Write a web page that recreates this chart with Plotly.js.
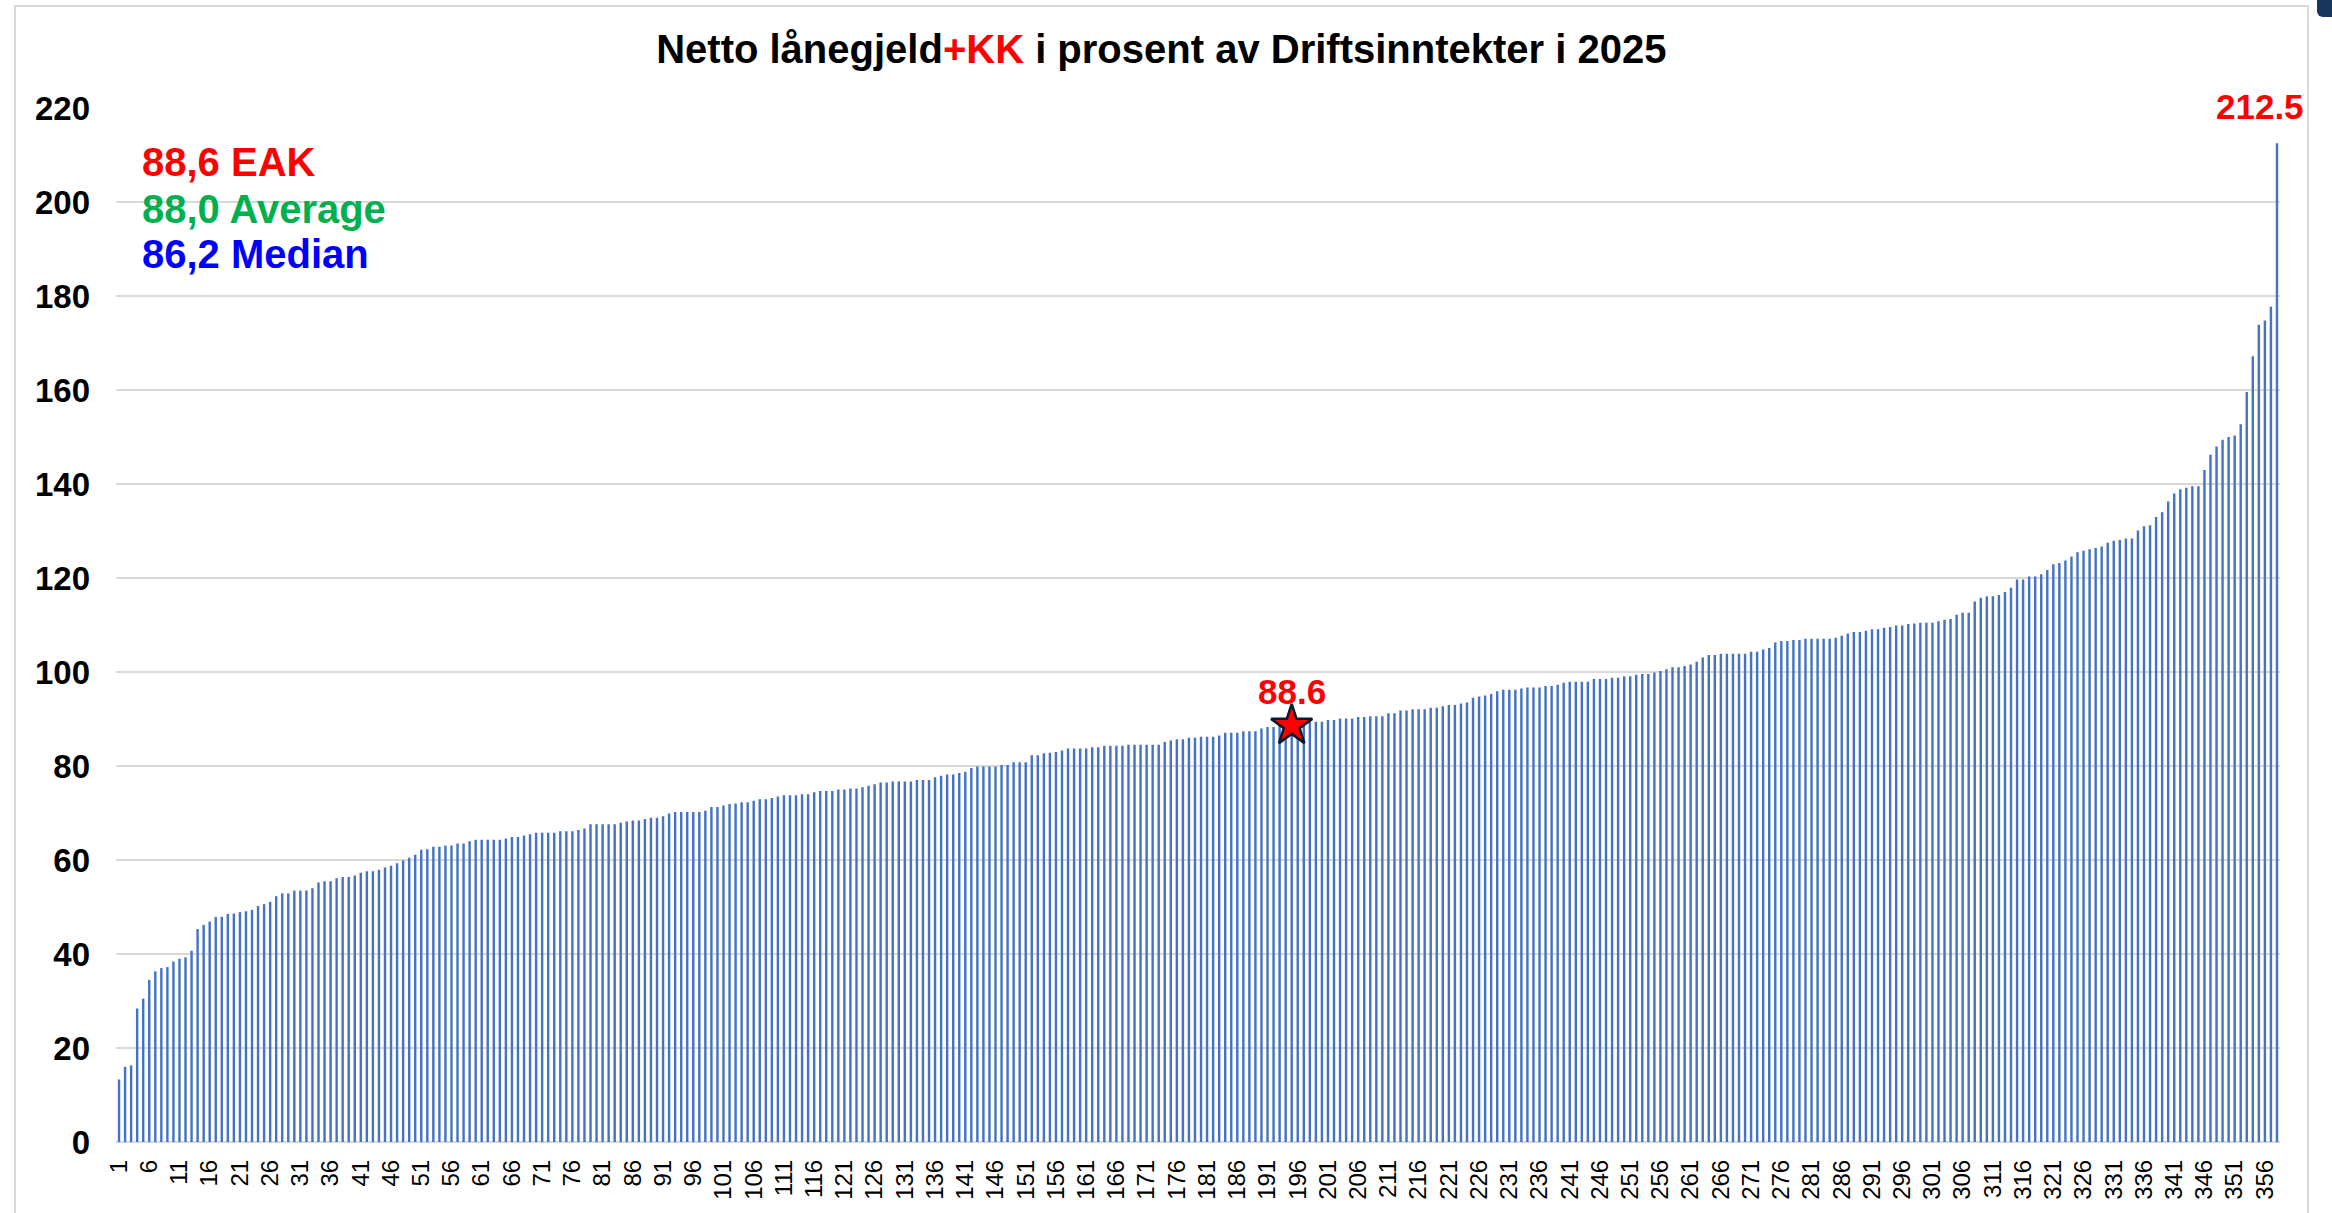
<!DOCTYPE html>
<html>
<head>
<meta charset="utf-8">
<script src="https://cdn.plot.ly/plotly-3.0.1.min.js"></script>
<style>
  html, body { margin: 0; padding: 0; background: #ffffff; }
  #frame { position: absolute; left: 14px; top: 5px; width: 2295px; height: 1220px; border: 2px solid #d9d9d9; box-sizing: border-box; }
  #corner { position: absolute; right: 0; top: 0; width: 15px; height: 17px; background: #17375e; border-bottom-left-radius: 6px; }
  #chart { position: absolute; left: 0; top: 0; width: 2332px; height: 1213px; }
</style>
</head>
<body>
<div id="frame"></div>
<div id="corner"></div>
<div id="chart"></div>
<script>
// Netto lånegjeld + KK i prosent av driftsinntekter 2025, sorted ascending (358 kommuner)
const netDebtPct = [
  13.3, 16.0, 16.3, 28.4, 30.5, 34.5, 36.3, 37.0, 37.2, 38.4,
  39.0, 39.3, 40.7, 45.3, 46.2, 46.9, 47.9, 47.9, 48.5, 48.6,
  48.9, 49.1, 49.4, 50.2, 50.6, 51.1, 52.3, 52.9, 52.9, 53.5,
  53.5, 53.5, 54.0, 55.2, 55.5, 55.5, 56.1, 56.4, 56.4, 56.7,
  57.3, 57.6, 57.6, 57.9, 58.4, 58.8, 59.3, 59.9, 60.5, 61.1,
  62.2, 62.3, 62.8, 62.8, 63.1, 63.1, 63.5, 63.5, 64.0, 64.3,
  64.3, 64.3, 64.3, 64.3, 64.6, 64.9, 64.9, 65.2, 65.5, 65.8,
  65.8, 65.8, 65.8, 66.1, 66.1, 66.1, 66.4, 66.7, 67.6, 67.6,
  67.6, 67.6, 67.6, 67.9, 68.2, 68.4, 68.4, 68.7, 69.0, 69.0,
  69.3, 69.9, 70.2, 70.2, 70.2, 70.2, 70.2, 70.5, 71.3, 71.3,
  71.6, 71.9, 72.0, 72.3, 72.3, 72.6, 72.9, 72.9, 73.2, 73.5,
  73.8, 73.8, 73.8, 74.0, 74.0, 74.4, 74.7, 74.7, 74.7, 75.0,
  75.0, 75.2, 75.2, 75.5, 75.8, 76.1, 76.5, 76.5, 76.7, 76.7,
  76.7, 76.7, 77.0, 77.0, 77.0, 77.6, 77.9, 78.2, 78.2, 78.5,
  78.8, 79.6, 79.9, 79.9, 79.9, 79.9, 80.2, 80.2, 80.8, 80.8,
  80.8, 82.3, 82.3, 82.7, 82.8, 83.0, 83.3, 83.7, 83.7, 83.7,
  83.7, 84.0, 84.0, 84.3, 84.3, 84.3, 84.3, 84.5, 84.5, 84.5,
  84.5, 84.5, 84.5, 85.1, 85.4, 85.7, 85.7, 86.0, 86.0, 86.2,
  86.2, 86.2, 86.5, 87.1, 87.1, 87.1, 87.4, 87.4, 87.4, 88.0,
  88.3, 88.3, 88.5, 88.6, 88.6, 88.9, 89.1, 89.4, 89.4, 89.4,
  89.8, 89.8, 90.1, 90.1, 90.1, 90.4, 90.4, 90.6, 90.6, 90.6,
  91.2, 91.2, 91.8, 91.8, 92.1, 92.1, 92.1, 92.4, 92.4, 92.7,
  93.0, 93.0, 93.3, 93.5, 94.5, 94.8, 95.0, 95.3, 95.9, 96.2,
  96.2, 96.2, 96.5, 96.7, 96.7, 96.7, 97.0, 97.0, 97.3, 97.7,
  97.9, 97.9, 97.9, 97.9, 98.5, 98.5, 98.5, 98.8, 98.8, 99.1,
  99.1, 99.4, 99.6, 99.6, 99.9, 100.2, 100.6, 101.0, 101.0, 101.3,
  101.6, 102.2, 103.1, 103.6, 103.6, 103.9, 103.9, 103.9, 103.9, 103.9,
  104.3, 104.3, 104.8, 105.1, 106.3, 106.6, 106.6, 106.8, 106.8, 107.1,
  107.1, 107.1, 107.1, 107.1, 107.3, 107.7, 108.2, 108.5, 108.5, 108.8,
  109.1, 109.1, 109.4, 109.6, 109.9, 109.9, 110.2, 110.3, 110.5, 110.5,
  110.5, 110.8, 111.1, 111.3, 112.2, 112.6, 112.6, 115.0, 115.8, 116.1,
  116.1, 116.4, 117.0, 117.9, 119.7, 119.7, 120.3, 120.3, 120.8, 121.7,
  122.9, 123.2, 123.7, 124.6, 125.5, 125.8, 126.1, 126.4, 126.7, 127.5,
  127.9, 128.1, 128.4, 128.4, 130.1, 131.0, 131.2, 133.0, 134.0, 136.3,
  138.0, 138.9, 139.2, 139.5, 139.5, 143.0, 146.2, 148.0, 149.4, 150.0,
  150.3, 152.7, 159.6, 167.2, 173.9, 174.8, 177.7, 212.5
];

// Highlighted kommune (EAK) and summary statistics
const eakRank = 195;
const eakValue = 88.6;
const statLines = [
  { text: "88,6 EAK", color: "#ff0000" },
  { text: "88,0 Average", color: "#00b050" },
  { text: "86,2 Median", color: "#0000ff" }
];
const yTicks = [0, 20, 40, 60, 80, 100, 120, 140, 160, 180, 200, 220];

// Rank categories 1..N and tick labels every 5th rank
const ranks = netDebtPct.map((_, i) => i + 1);
const xTickVals = ranks.filter(r => (r - 1) % 5 === 0);
const xTickText = xTickVals.map(String);

const maxIdx = netDebtPct.length - 1;
const FONT = "Liberation Sans, Arial, sans-serif";

const bars = {
  type: "bar",
  x: ranks,
  y: netDebtPct,
  marker: { color: "#4472c4", line: { width: 0 } },
  hoverinfo: "x+y"
};

const star = {
  type: "scatter",
  mode: "markers",
  x: [eakRank],
  y: [eakValue],
  marker: { symbol: "star", size: 31, color: "#ff0000", line: { color: "#0d1b2a", width: 2.5 } },
  hoverinfo: "x+y"
};

const annotations = [
  {
    x: eakRank, y: eakValue, xref: "x", yref: "y",
    text: "<b>" + eakValue.toFixed(1) + "</b>", showarrow: false,
    yanchor: "bottom", yshift: 13,
    font: { family: FONT, size: 35, color: "#ff0000" }
  },
  {
    x: ranks[maxIdx], y: netDebtPct[maxIdx], xref: "x", yref: "y",
    text: "<b>" + netDebtPct[maxIdx].toFixed(1) + "</b>", showarrow: false,
    yanchor: "bottom", xanchor: "center", yshift: 15, xshift: -17,
    font: { family: FONT, size: 35, color: "#ff0000" }
  }
];
const statY = [0.948, 0.902, 0.859];
statLines.forEach((s, i) => {
  annotations.push({
    x: 0.011, y: statY[i], xref: "paper", yref: "paper",
    xanchor: "left", yanchor: "middle", showarrow: false,
    text: "<b>" + s.text + "</b>",
    font: { family: FONT, size: 40, color: s.color }
  });
});

const layout = {
  width: 2332,
  height: 1213,
  paper_bgcolor: "rgba(0,0,0,0)",
  plot_bgcolor: "rgba(0,0,0,0)",
  margin: { l: 116, r: 52, t: 108, b: 71 },
  showlegend: false,
  bargap: 0.6,
  title: {
    text: "<b>Netto lånegjeld<span style=\"color:#ff0000\">+KK</span> i prosent av Driftsinntekter i 2025</b>",
    font: { family: FONT, size: 40, color: "#000000" },
    x: 0.498, xref: "container", xanchor: "center",
    y: 0.96, yref: "container", yanchor: "middle"
  },
  xaxis: {
    range: [0.5, netDebtPct.length + 0.5],
    tickmode: "array",
    tickvals: xTickVals,
    ticktext: xTickText,
    tickangle: -90,
    tickfont: { family: FONT, size: 24, color: "#000000" },
    ticks: "",
    ticklabelstandoff: 12,
    showgrid: false,
    zeroline: false,
    showline: false
  },
  yaxis: {
    range: [0, 220],
    tickmode: "array",
    tickvals: yTicks,
    ticktext: yTicks.map(v => "<b>" + v + "</b>"),
    tickfont: { family: FONT, size: 33, color: "#000000" },
    ticks: "",
    ticklabelstandoff: 25,
    showgrid: true,
    gridcolor: "#d9d9d9",
    gridwidth: 2,
    zeroline: true,
    zerolinecolor: "#d9d9d9",
    zerolinewidth: 2,
    showline: false
  },
  annotations: annotations
};

Plotly.newPlot("chart", [bars, star], layout, { displayModeBar: false, staticPlot: true });
</script>
</body>
</html>
